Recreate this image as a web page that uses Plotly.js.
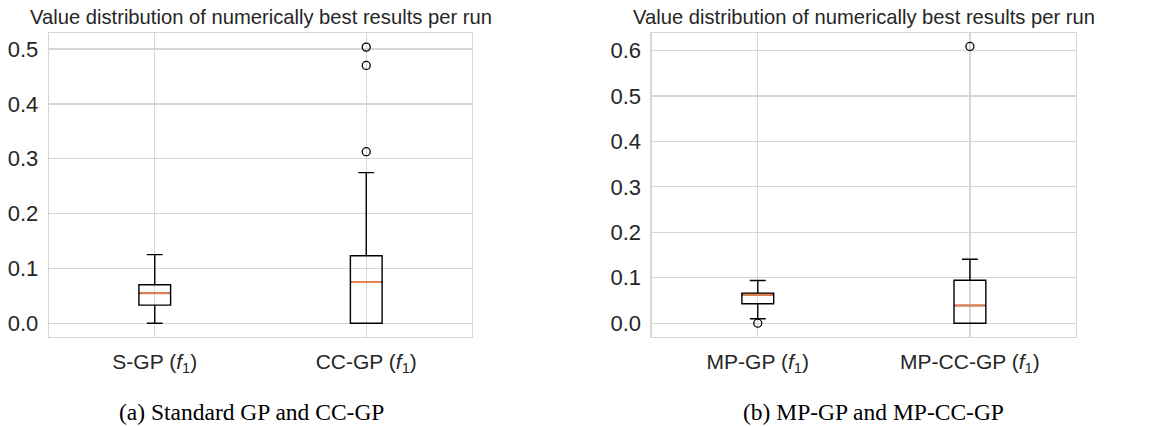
<!DOCTYPE html>
<html>
<head>
<meta charset="utf-8">
<script src="https://cdn.plot.ly/plotly-3.0.1.min.js"></script>
<style>html,body{margin:0;padding:0;background:#fff;}#chart{width:1158px;height:426px;}</style>
</head>
<body>
<div id="chart"></div>
<script>
// Panel (a)
const catsA = ["S-GP (<i>f</i><sub>1</sub>)", "CC-GP (<i>f</i><sub>1</sub>)"];
const q1A = [0.033, 0.0];
const medA = [0.0545, 0.075];
const q3A = [0.070, 0.123];
const lowA = [0.0, 0.0];
const upA = [0.125, 0.2745];
const outXA = ["CC-GP (<i>f</i><sub>1</sub>)", "CC-GP (<i>f</i><sub>1</sub>)", "CC-GP (<i>f</i><sub>1</sub>)"];
const outYA = [0.5035, 0.470, 0.3127];

// Panel (b)
const catsB = ["MP-GP (<i>f</i><sub>1</sub>)", "MP-CC-GP (<i>f</i><sub>1</sub>)"];
const q1B = [0.0426, 0.0];
const medB = [0.0624, 0.039];
const q3B = [0.066, 0.0945];
const lowB = [0.0097, 0.0];
const upB = [0.0938, 0.1407];
const outXB = ["MP-GP (<i>f</i><sub>1</sub>)", "MP-CC-GP (<i>f</i><sub>1</sub>)"];
const outYB = [0.0, 0.6088];

const titleText = "Value distribution of numerically best results per run";
const captionA = "(a) Standard GP and CC-GP";
const captionB = "(b) MP-GP and MP-CC-GP";

const W = 1158, H = 426;
const boxLine = {color: "#000000", width: 1.4};
const medColor = "#e8834f";

function boxTraces(cats, q1, med, q3, lo, up, xa, ya) {
  return [
    {type: "box", x: cats, q1: q1, median: med, q3: q3, lowerfence: lo, upperfence: up,
     xaxis: xa, yaxis: ya, width: 0.15, whiskerwidth: 0.5, line: boxLine,
     fillcolor: "rgba(0,0,0,0)", boxpoints: false, showlegend: false, hoverinfo: "skip"},
    {type: "box", x: cats, q1: med, median: med, q3: med, lowerfence: med, upperfence: med,
     xaxis: xa, yaxis: ya, width: 0.14, whiskerwidth: 0, line: {color: medColor, width: 2},
     fillcolor: "rgba(0,0,0,0)", boxpoints: false, showlegend: false, hoverinfo: "skip"}
  ];
}

const data = [].concat(
  boxTraces(catsA, q1A, medA, q3A, lowA, upA, "x", "y"),
  [{type: "scatter", mode: "markers", x: outXA, y: outYA, xaxis: "x", yaxis: "y",
    marker: {symbol: "circle-open", size: 8, color: "#000", line: {width: 1.3, color: "#000"}},
    showlegend: false, hoverinfo: "skip"}],
  boxTraces(catsB, q1B, medB, q3B, lowB, upB, "x2", "y2"),
  [{type: "scatter", mode: "markers", x: outXB, y: outYB, xaxis: "x2", yaxis: "y2",
    marker: {symbol: "circle-open", size: 8, color: "#000", line: {width: 1.3, color: "#000"}},
    showlegend: false, hoverinfo: "skip"}]
);

const ydom = [1 - 337 / H, 1 - 33 / H];
const xTickFont = {family: "Liberation Sans, Arial, sans-serif", size: 21, color: "#262626"};
const yTickFont = {family: "Liberation Sans, Arial, sans-serif", size: 22, color: "#262626"};
const grid = "#d6d6d6";

function xax(dom, cats, anchor) {
  return {domain: dom, anchor: anchor, type: "category", categoryarray: cats, categoryorder: "array",
    range: [-0.5, 1.5], showgrid: true, gridcolor: grid, gridwidth: 1.3,
    showline: true, mirror: true, linecolor: grid, linewidth: 1.3, zeroline: false,
    ticks: "", tickfont: xTickFont, ticklabelstandoff: 5};
}
function yax(dom, range, anchor) {
  return {domain: dom, anchor: anchor, range: range, dtick: 0.1, tick0: 0, tickformat: ".1f",
    showgrid: true, gridcolor: grid, gridwidth: 1.3,
    showline: true, mirror: true, linecolor: grid, linewidth: 1.3, zeroline: false,
    ticks: "", tickfont: yTickFont, ticklabelstandoff: 5};
}

const layout = {
  width: W, height: H,
  margin: {l: 0, r: 0, t: 0, b: 0},
  paper_bgcolor: "#ffffff", plot_bgcolor: "#ffffff",
  boxmode: "overlay",
  showlegend: false,
  xaxis: xax([49 / W, 472 / W], catsA, "y"),
  yaxis: yax(ydom, [-0.0252, 0.5292], "x"),
  xaxis2: xax([651.7 / W, 1076 / W], catsB, "y2"),
  yaxis2: yax(ydom, [-0.0304, 0.6384], "x2"),
  annotations: [
    {text: titleText, xref: "paper", yref: "paper", x: 260.5 / W, y: 1 - 17 / H, xanchor: "center", yanchor: "middle",
     showarrow: false, font: {family: "Liberation Sans, Arial, sans-serif", size: 20.2, color: "#262626"}},
    {text: titleText, xref: "paper", yref: "paper", x: 864 / W, y: 1 - 17 / H, xanchor: "center", yanchor: "middle",
     showarrow: false, font: {family: "Liberation Sans, Arial, sans-serif", size: 20.2, color: "#262626"}},
    {text: captionA, xref: "paper", yref: "paper", x: 251 / W, y: 1 - 412 / H, xanchor: "center", yanchor: "middle",
     showarrow: false, font: {family: "Liberation Serif, Times New Roman, serif", size: 23.5, color: "#000"}},
    {text: captionB, xref: "paper", yref: "paper", x: 873 / W, y: 1 - 412 / H, xanchor: "center", yanchor: "middle",
     showarrow: false, font: {family: "Liberation Serif, Times New Roman, serif", size: 23.5, color: "#000"}}
  ]
};

Plotly.newPlot("chart", data, layout, {staticPlot: true, displayModeBar: false});
</script>
</body>
</html>
